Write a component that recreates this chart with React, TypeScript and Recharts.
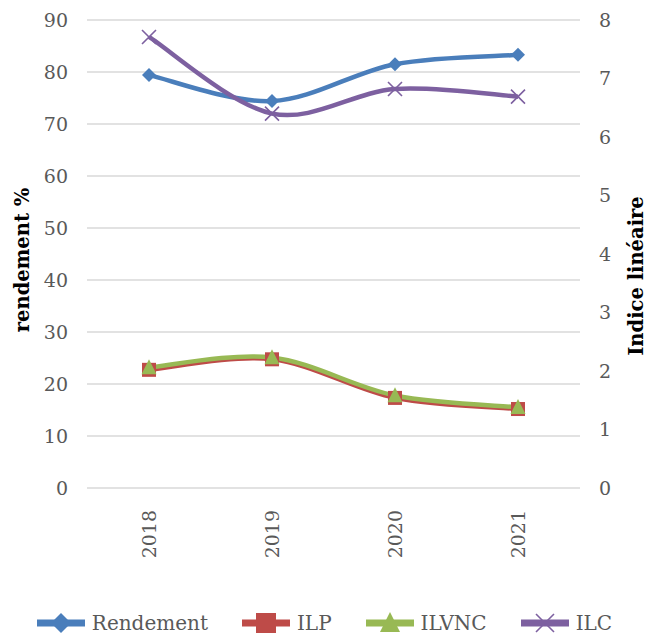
import React from "react";
import { CartesianGrid, Label, Legend, Line, LineChart, XAxis, YAxis } from "recharts";

const years = ["2018", "2019", "2020", "2021"];
const rendement = [79.4, 74.4, 81.5, 83.3];
const ilp = [2.02, 2.2, 1.54, 1.35];
const ilvnc = [2.06, 2.23, 1.58, 1.38];
const ilc = [7.71, 6.4, 6.82, 6.69];
const leftTicks = [0, 10, 20, 30, 40, 50, 60, 70, 80, 90];
const rightTicks = [0, 1, 2, 3, 4, 5, 6, 7, 8];

const data = years.map((year, i) => ({
    year,
    Rendement: rendement[i],
    ILP: ilp[i],
    ILVNC: ilvnc[i],
    ILC: ilc[i],
}));

const FONT = "'DejaVu Serif', serif";
const GREY = "#595959";

const COLORS = {
    Rendement: "#4a7ebb",
    ILP: "#be4b48",
    ILVNC: "#98b954",
    ILC: "#7d60a0",
};

// Excel-like smoothing: catmull-rom style bezier (1/6 control points)
function excelCurve(context: any) {
    let pts: number[][] = [];
    return {
        areaStart() {},
        areaEnd() {},
        lineStart() {
            pts = [];
        },
        point(x: number, y: number) {
            pts.push([+x, +y]);
        },
        lineEnd() {
            const n = pts.length;
            if (!n) return;
            context.moveTo(pts[0][0], pts[0][1]);
            for (let i = 0; i < n - 1; i++) {
                const p0 = pts[Math.max(i - 1, 0)];
                const p1 = pts[i];
                const p2 = pts[i + 1];
                const p3 = pts[Math.min(i + 2, n - 1)];
                context.bezierCurveTo(
                    p1[0] + (p2[0] - p0[0]) / 6,
                    p1[1] + (p2[1] - p0[1]) / 6,
                    p2[0] - (p3[0] - p1[0]) / 6,
                    p2[1] - (p3[1] - p1[1]) / 6,
                    p2[0],
                    p2[1]
                );
            }
        },
    };
}

const Marker = ({ kind, cx, cy, s }: { kind: string; cx: number; cy: number; s: number }) => {
    const c = (COLORS as any)[kind];
    if (kind === "Rendement") {
        return <path d={`M${cx},${cy - s}L${cx + s},${cy}L${cx},${cy + s}L${cx - s},${cy}Z`} fill={c} />;
    }
    if (kind === "ILP") {
        return <rect x={cx - s} y={cy - s} width={s * 2} height={s * 2} fill={c} />;
    }
    if (kind === "ILVNC") {
        return <path d={`M${cx},${cy - s * 1.1}L${cx + s},${cy + s * 0.9}L${cx - s},${cy + s * 0.9}Z`} fill={c} />;
    }
    return (
        <path
            d={`M${cx - s},${cy - s}L${cx + s},${cy + s}M${cx - s},${cy + s}L${cx + s},${cy - s}`}
            stroke={c}
            strokeWidth={1.6}
            fill="none"
        />
    );
};

const dotFor = (kind: string, s: number) => (p: any) =>
    <Marker key={`${kind}-${p.index}`} kind={kind} cx={p.cx} cy={p.cy} s={s} />;

const YearTick = ({ x, y, payload }: any) => (
    <text
        x={x}
        y={y + 20}
        transform={`rotate(-90, ${x}, ${y + 20})`}
        textAnchor="end"
        dy="0.36em"
        fill={GREY}
        fontSize={19}
        fontFamily={FONT}
    >
        {payload.value}
    </text>
);

const series = ["Rendement", "ILP", "ILVNC", "ILC"];

const LegendBox = () => (
    <div
        style={{
            display: "flex",
            justifyContent: "center",
            alignItems: "center",
            height: 30,
            marginTop: 14,
            gap: 34,
            fontFamily: FONT,
            fontSize: 20,
            lineHeight: "24px",
            color: GREY,
        }}
    >
        {series.map((k) => (
            <div key={k} style={{ display: "flex", alignItems: "center", gap: 7 }}>
                <svg width={48} height={26}>
                    <line x1={0} y1={13} x2={48} y2={13} stroke={(COLORS as any)[k]} strokeWidth={7} />
                    <Marker kind={k} cx={24} cy={13} s={k === "ILC" ? 9 : 10} />
                </svg>
                <span>{k}</span>
            </div>
        ))}
    </div>
);

export default function App() {
    return (
        <div style={{ position: "absolute", left: 0, top: 0, width: 649, height: 634, background: "#fff" }}>
            <LineChart
                width={649}
                height={634}
                data={data}
                margin={{ top: 20, right: 0, bottom: 0, left: 0 }}
            >
                <CartesianGrid horizontal vertical={false} stroke="#d9d9d9" strokeWidth={1.5} yAxisId="left" />
                <XAxis
                    dataKey="year"
                    axisLine={false}
                    tickLine={false}
                    tickSize={0}
                    tick={<YearTick />}
                    height={106}
                    interval={0}
                    padding={{ left: 62, right: 62 }}
                />
                <YAxis
                    yAxisId="left"
                    domain={[0, 90]}
                    ticks={leftTicks}
                    width={87}
                    axisLine={false}
                    tickLine={false}
                    tickSize={0}
                    tickMargin={19}
                    tick={{ fill: GREY, fontSize: 19, fontFamily: FONT }}
                >
                    <Label
                        content={({ viewBox }: any) => (
                            <text
                                x={22}
                                y={viewBox.y + viewBox.height / 2 + 6}
                                transform={`rotate(-90, 22, ${viewBox.y + viewBox.height / 2 + 6})`}
                                textAnchor="middle"
                                dominantBaseline="central"
                                fontFamily={FONT}
                                fontWeight="bold"
                                fontSize={19.5}
                                fill="#000"
                            >
                                rendement %
                            </text>
                        )}
                    />
                </YAxis>
                <YAxis
                    yAxisId="right"
                    orientation="right"
                    domain={[0, 8]}
                    ticks={rightTicks}
                    width={69}
                    axisLine={false}
                    tickLine={false}
                    tickSize={0}
                    tickMargin={19}
                    tick={{ fill: GREY, fontSize: 19, fontFamily: FONT }}
                >
                    <Label
                        content={({ viewBox }: any) => (
                            <text
                                x={636}
                                y={viewBox.y + viewBox.height / 2 + 22}
                                transform={`rotate(-90, 636, ${viewBox.y + viewBox.height / 2 + 22})`}
                                textAnchor="middle"
                                dominantBaseline="central"
                                fontFamily={FONT}
                                fontWeight="bold"
                                fontSize={19.5}
                                fill="#000"
                            >
                                Indice linéaire
                            </text>
                        )}
                    />
                </YAxis>
                <Legend verticalAlign="bottom" height={40} content={<LegendBox />} />
                <Line
                    yAxisId="left"
                    dataKey="Rendement"
                    type={excelCurve as any}
                    stroke={COLORS.Rendement}
                    strokeWidth={4.5}
                    dot={dotFor("Rendement", 7)}
                    activeDot={false}
                    isAnimationActive={false}
                />
                <Line
                    yAxisId="right"
                    dataKey="ILP"
                    type={excelCurve as any}
                    stroke={COLORS.ILP}
                    strokeWidth={4.5}
                    dot={dotFor("ILP", 7)}
                    activeDot={false}
                    isAnimationActive={false}
                />
                <Line
                    yAxisId="right"
                    dataKey="ILVNC"
                    type={excelCurve as any}
                    stroke={COLORS.ILVNC}
                    strokeWidth={4.5}
                    dot={dotFor("ILVNC", 7.5)}
                    activeDot={false}
                    isAnimationActive={false}
                />
                <Line
                    yAxisId="right"
                    dataKey="ILC"
                    type={excelCurve as any}
                    stroke={COLORS.ILC}
                    strokeWidth={4.5}
                    dot={dotFor("ILC", 7)}
                    activeDot={false}
                    isAnimationActive={false}
                />
            </LineChart>
        </div>
    );
}
